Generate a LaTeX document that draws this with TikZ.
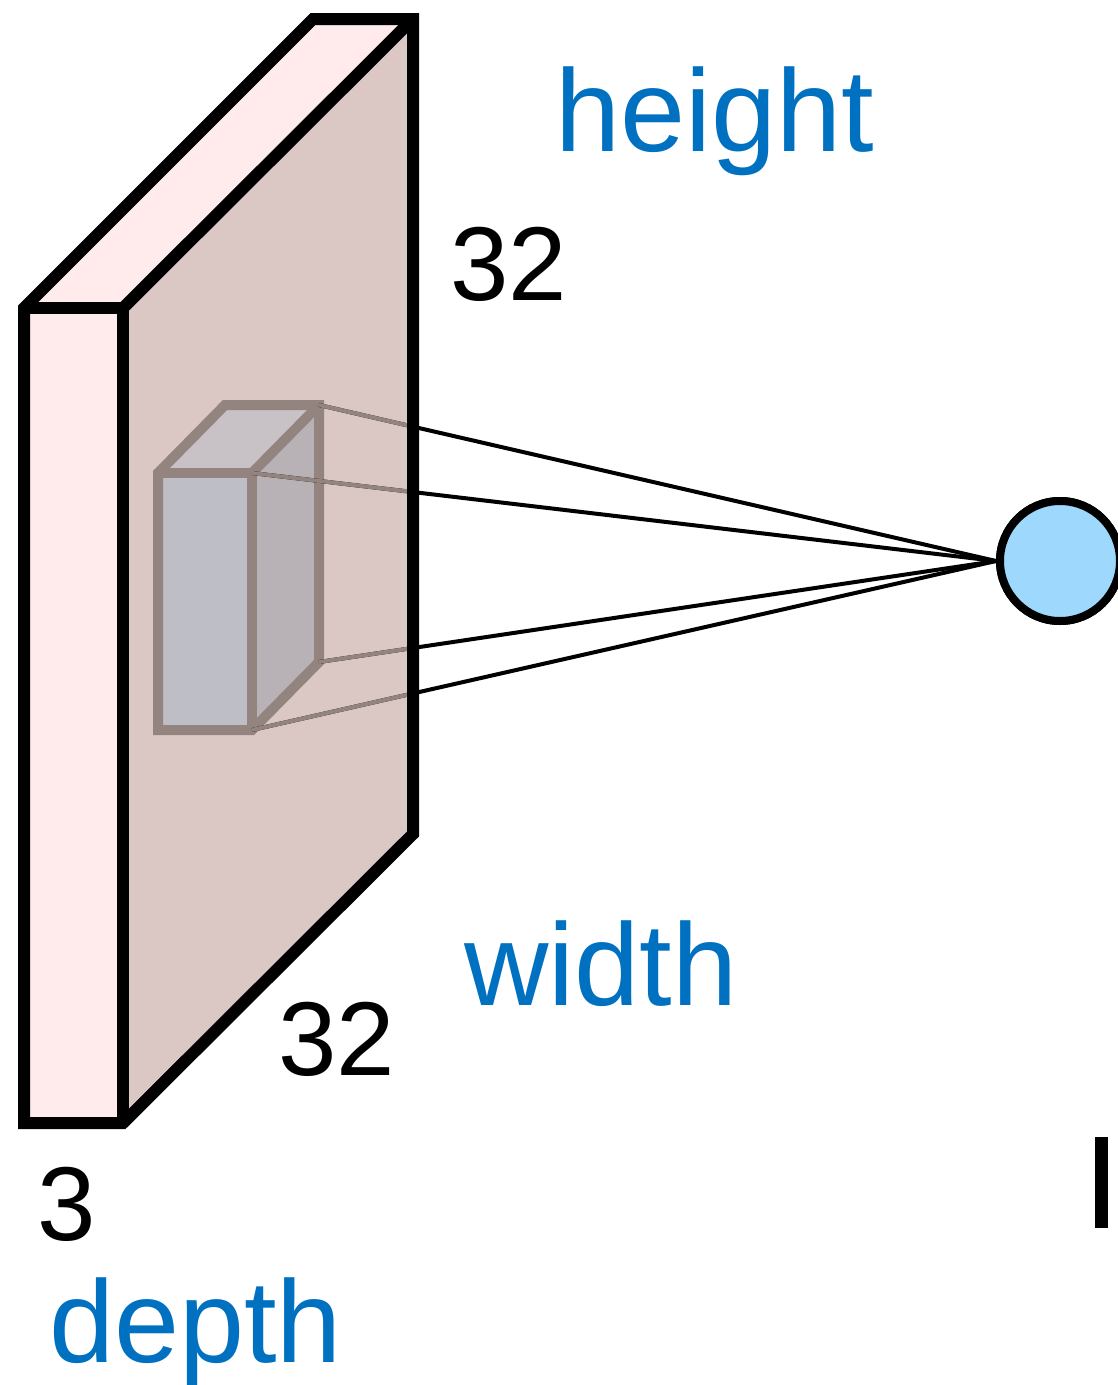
\documentclass[tikz,border=0pt]{standalone}
\usepackage{fontspec}
\setmainfont{Liberation Sans}
\usetikzlibrary{calc}
\definecolor{slabfront}{HTML}{FFEBEB}
\definecolor{slabside}{HTML}{DBC8C5}
\definecolor{cubeedge}{HTML}{948480}
\definecolor{cubefront}{HTML}{BEBEC6}
\definecolor{cubeside}{HTML}{B8B1B6}
\definecolor{cubetop}{HTML}{C8C1C6}
\definecolor{neuron}{HTML}{9ED9FD}
\definecolor{lblblue}{HTML}{0070C0}
\tikzset{
  slabline/.style={draw=black, line width=12pt, line join=miter},
  cubeline/.style={draw=cubeedge, line width=10pt, line join=miter},
  wire/.style={draw=black, line width=4pt},
  greywire/.style={draw=cubeedge, line width=4pt},
  neuronstyle/.style={circle, minimum size=120pt, inner sep=0pt, line width=8pt, draw=black, fill=neuron},
  bluelbl/.style={inner sep=0pt, anchor=base west, text=lblblue, font=\fontsize{117}{120}\selectfont},
  numlbl/.style={inner sep=0pt, anchor=base west, text=black, font=\fontsize{105}{110}\selectfont},
}
\begin{document}
\begin{tikzpicture}[x=1pt,y=-1pt]
\useasboundingbox (0,0) rectangle (1118,1385);
\clip (0,0) rectangle (1118,1385);
% slab
\coordinate (Ftl) at (24,308);
\coordinate (Ftr) at (123,308);
\coordinate (Fbr) at (123,1123);
\coordinate (Fbl) at (24,1123);
\coordinate (Btl) at (313,19);
\coordinate (Btr) at (413,19);
\coordinate (Bbr) at (413,834);
\fill[slabfront] (Ftl) -- (Ftr) -- (Fbr) -- (Fbl) -- cycle;
\fill[slabfront] (Ftl) -- (Btl) -- (Btr) -- (Ftr) -- cycle;
\fill[slabside] (Ftr) -- (Btr) -- (Bbr) -- (Fbr) -- cycle;
% small cube
\coordinate (ftl) at (158,473);
\coordinate (ftr) at (252,473);
\coordinate (fbr) at (252,730);
\coordinate (fbl) at (158,730);
\coordinate (btl) at (225,405);
\coordinate (btr) at (319,405);
\coordinate (bbr) at (319,662);
\fill[cubefront] (ftl) -- (ftr) -- (fbr) -- (fbl) -- cycle;
\fill[cubetop] (ftl) -- (btl) -- (btr) -- (ftr) -- cycle;
\fill[cubeside] (ftr) -- (btr) -- (bbr) -- (fbr) -- cycle;
\draw[cubeline] (fbl) -- (ftl) -- (btl) -- (btr) -- (bbr) -- (fbr) -- cycle;
\draw[cubeline] (ftl) -- (ftr) -- (fbr);
\draw[cubeline] (ftr) -- (btr);
% neuron
\node[neuronstyle] (n) at (1060,561) {};
% wires
\draw[wire] (btr) -- (n.west);
\draw[wire] (ftr) -- (n.west);
\draw[wire] (bbr) -- (n.west);
\draw[wire] (fbr) -- (n.west);
\draw[greywire] (btr) -- ($(btr)!0.1388!(n.west)$);
\draw[greywire] (ftr) -- ($(ftr)!0.2164!(n.west)$);
\draw[greywire] (bbr) -- ($(bbr)!0.1388!(n.west)$);
\draw[greywire] (fbr) -- ($(fbr)!0.2164!(n.west)$);
% slab outlines on top
\draw[slabline] (Fbl) -- (Ftl) -- (Btl) -- (Btr) -- (Bbr) -- (Fbr) -- cycle;
\draw[slabline] (Ftl) -- (Ftr) -- (Fbr);
\draw[slabline] (Ftr) -- (Btr);
% neuron redrawn on top of wire ends
\node[neuronstyle] (n2) at (n) {};
% labels
\node[bluelbl] (hgt) at (555,151) {height};
\node[numlbl] (h32) at (450,300) {32};
\node[bluelbl] (wid) at (464,1005) {width};
\node[numlbl] (w32) at (278,1075) {32};
\node[numlbl] (d3) at (37,1240) {3};
\node[bluelbl] (dep) at (49,1362) {depth};
% partial glyph at lower right
\fill[black] (1095,1137) rectangle (1108,1228);
\end{tikzpicture}
\end{document}
